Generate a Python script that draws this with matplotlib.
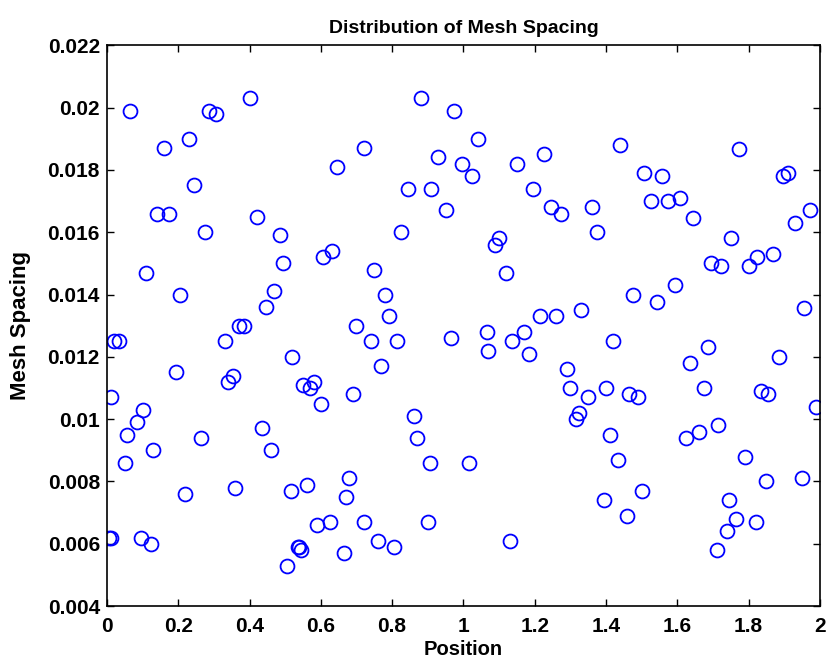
import matplotlib
matplotlib.use('Agg')
import matplotlib.pyplot as plt
import numpy as np

# positions and mesh spacing
position = [0.005, 0.012, 0.01, 0.02, 0.035, 0.05, 0.055, 0.065, 0.085, 0.095,
            0.10, 0.11, 0.125, 0.13, 0.14, 0.16, 0.175, 0.195, 0.205,
            0.22, 0.23, 0.245, 0.265, 0.275, 0.285, 0.305, 0.33, 0.34, 0.355,
            0.36, 0.37, 0.385, 0.40,
            0.42, 0.435, 0.445, 0.46, 0.47, 0.485, 0.495, 0.505, 0.515, 0.52,
            0.535, 0.545, 0.54, 0.55, 0.56, 0.57, 0.58, 0.59, 0.60, 0.605,
            0.625, 0.63, 0.645, 0.665, 0.67, 0.68, 0.69, 0.70, 0.72, 0.72,
            0.74, 0.75, 0.76, 0.77, 0.78, 0.79, 0.805, 0.815, 0.825,
            0.845, 0.86, 0.87, 0.88, 0.90, 0.905, 0.91, 0.93, 0.95, 0.965,
            0.975, 0.995,
            1.015, 1.025, 1.04, 1.065, 1.07, 1.09, 1.10, 1.12, 1.13, 1.135,
            1.15, 1.17, 1.185, 1.195,
            1.215, 1.225, 1.245, 1.26, 1.275, 1.29, 1.30, 1.315, 1.325, 1.33,
            1.35, 1.36, 1.375, 1.395, 1.40,
            1.41, 1.42, 1.435, 1.44, 1.46, 1.465, 1.475, 1.49, 1.50, 1.506,
            1.526, 1.543, 1.557, 1.574, 1.593, 1.607,
            1.625, 1.635, 1.644, 1.66, 1.675, 1.685, 1.694, 1.71, 1.715, 1.722,
            1.74, 1.745, 1.75, 1.765, 1.773, 1.79, 1.80,
            1.82, 1.823, 1.835, 1.85, 1.855, 1.868, 1.885, 1.896, 1.91, 1.93,
            1.95, 1.955, 1.972, 1.99]
spacing = [0.0062, 0.0062, 0.0107, 0.0125, 0.0125, 0.0086, 0.0095, 0.0199, 0.0099, 0.0062,
           0.0103, 0.0147, 0.0060, 0.0090, 0.0166, 0.0187, 0.0166, 0.0115, 0.0140,
           0.0076, 0.0190, 0.0175, 0.0094, 0.0160, 0.0199, 0.0198, 0.0125, 0.0112, 0.0114,
           0.0078, 0.0130, 0.0130, 0.0203,
           0.0165, 0.0097, 0.0136, 0.0090, 0.0141, 0.0159, 0.0150, 0.0053, 0.0077, 0.0120,
           0.0059, 0.0058, 0.0059, 0.0111, 0.0079, 0.0110, 0.0112, 0.0066, 0.0105, 0.0152,
           0.0067, 0.0154, 0.0181, 0.0057, 0.0075, 0.0081, 0.0108, 0.0130, 0.0067, 0.0187,
           0.0125, 0.0148, 0.0061, 0.0117, 0.0140, 0.0133, 0.0059, 0.0125, 0.0160,
           0.0174, 0.0101, 0.0094, 0.0203, 0.0067, 0.0086, 0.0174, 0.0184, 0.0167, 0.0126,
           0.0199, 0.0182,
           0.0086, 0.0178, 0.0190, 0.0128, 0.0122, 0.0156, 0.0158, 0.0147, 0.0061, 0.0125,
           0.0182, 0.0128, 0.0121, 0.0174,
           0.0133, 0.0185, 0.0168, 0.0133, 0.0166, 0.0116, 0.0110, 0.0100, 0.0102, 0.0135,
           0.0107, 0.0168, 0.0160, 0.0074, 0.0110,
           0.0095, 0.0125, 0.0087, 0.0188, 0.0069, 0.0108, 0.0140, 0.0107, 0.0077, 0.0179,
           0.0170, 0.01375, 0.0178, 0.0170, 0.0143, 0.0171,
           0.0094, 0.0118, 0.01645, 0.0096, 0.0110, 0.0123, 0.0150, 0.0058, 0.0098, 0.0149,
           0.0064, 0.0074, 0.0158, 0.0068, 0.01866, 0.0088, 0.0149,
           0.0067, 0.0152, 0.0109, 0.0080, 0.0108, 0.0153, 0.0120, 0.0178, 0.0179, 0.0163,
           0.0081, 0.01356, 0.0167, 0.0104]

xticks = np.arange(0, 2.01, 0.2)
yticks = np.arange(0.004, 0.0221, 0.002)

plt.rcParams['font.family'] = ['Liberation Sans', 'DejaVu Sans']
plt.rcParams['font.weight'] = 'bold'

fig = plt.figure(figsize=(8.29, 6.66), dpi=100)
ax = fig.add_axes([0.129, 0.090, 0.860, 0.842])
ax.plot(position, spacing, 'o', mfc='none', mec='blue', ms=10, mew=1.3)

ax.set_xlim(0, 2)
ax.set_ylim(0.004, 0.022)
ax.set_xticks(xticks)
ax.set_xticklabels(['0', '0.2', '0.4', '0.6', '0.8', '1', '1.2', '1.4', '1.6', '1.8', '2'])
ax.set_yticks(yticks)
ax.set_yticklabels(['0.004', '0.006', '0.008', '0.01', '0.012', '0.014',
                    '0.016', '0.018', '0.02', '0.022'])
ax.tick_params(direction='in', length=5, width=1, top=True, right=True,
               labelsize=15)
ax.tick_params(axis='x', pad=8)
ax.tick_params(axis='y', pad=5)
for s in ax.spines.values():
    s.set_linewidth(1.2)

ax.set_title('Distribution of Mesh Spacing', fontsize=14, fontweight='bold', pad=9)
ax.set_xlabel('Position', fontsize=14.5, fontweight='bold', labelpad=3)
ax.set_ylabel('Mesh Spacing', fontsize=16, fontweight='bold', labelpad=12)

fig.savefig('out.png', dpi=100)
